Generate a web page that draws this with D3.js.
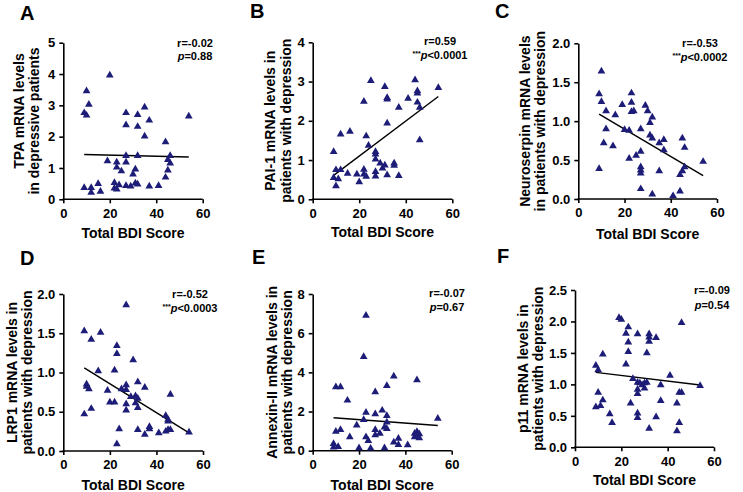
<!DOCTYPE html>
<html><head><meta charset="utf-8">
<script src="https://cdn.jsdelivr.net/npm/d3@7"></script>
<style>
html,body{margin:0;padding:0;background:#fff;}
svg text{font-family:"Liberation Sans",Arial,sans-serif;font-weight:bold;fill:#000;}
</style></head>
<body><svg id="chart" width="743" height="492"></svg>
<script>
// ---------------- DATA ----------------
const xTicks = [0, 20, 40, 60];
const xTitle = "Total BDI Score";

// Panel A: TPA
const tpaPoints = [[20,3.96],[10,3.46],[11,3.03],[9,2.76],[10,2.68],[27,2.76],[32,2.70],[35,2.94],[27,2.37],[32,2.32],[37,2.52],[35,2.01],[54,2.65],[44,1.83],[46,1.39],[27,1.39],[32,1.39],[45,1.26],[46,1.15],[19,1.22],[23,1.18],[23,1.02],[27,1.18],[25,0.90],[31,0.96],[30,0.80],[45,0.93],[44,0.70],[9,0.37],[12,0.37],[12,0.22],[15,0.50],[16,0.25],[22,0.53],[22,0.35],[23,0.32],[24,0.46],[27,0.43],[29,0.42],[31,0.51],[32,0.48],[37,0.42],[41,0.43]];
const tpaFit = [[9,1.43],[54,1.35]];
const tpaTicks = [0,1,2,3,4,5];
const tpaLabel = ["TPA mRNA levels","in depressive patients"];
const tpaStats = ["r=-0.02","","p=0.88"];

// Panel B: PAI-1
const paiPoints = [[25,3.02],[31,2.87],[44,3.04],[54,2.84],[45,2.76],[45,2.70],[41,2.57],[32,2.59],[32,2.55],[22,2.49],[45,2.47],[46,2.34],[37,2.34],[32,1.94],[12,1.66],[16,1.73],[23,1.61],[46,1.51],[24,1.37],[9,1.21],[27,1.21],[27,1.15],[27,1.02],[29,0.92],[31,0.87],[30,0.79],[35,0.92],[35,0.86],[10,0.75],[12,0.75],[15,0.66],[19,0.64],[22,0.76],[22,0.64],[23,0.58],[27,0.70],[27,0.59],[32,0.62],[37,0.60],[9,0.55],[11,0.52],[20,0.44],[10,0.34]];
const paiFit = [[9,0.61],[54,2.62]];
const paiTicks = [0,1,2,3,4];
const paiLabel = ["PAI-1 mRNA levels in","patients with depression"];
const paiStats = ["r=0.59","***","p<0.0001"];

// Panel C: Neuroserpin
const nsPoints = [[10,1.64],[9,1.35],[10,1.25],[12,1.13],[16,1.08],[19,1.21],[23,1.36],[23,1.24],[23,1.12],[24,1.13],[29,1.20],[30,1.13],[32,1.05],[31,0.98],[12,0.90],[20,0.89],[22,0.88],[27,0.90],[31,0.82],[32,0.78],[35,0.72],[37,0.76],[45,0.78],[46,0.66],[11,0.72],[15,0.68],[37,0.63],[22,0.52],[25,0.56],[27,0.61],[9,0.39],[27,0.41],[27,0.37],[27,0.33],[35,0.36],[54,0.48],[46,0.41],[45,0.36],[44,0.31],[27,0.13],[32,0.06],[41,0.04],[44,0.10]];
const nsFit = [[9,1.09],[54,0.30]];
const nsTicks = [0,0.5,1.0,1.5,2.0];
const nsLabel = ["Neuroserpin mRNA levels","in patients with depression"];
const nsStats = ["r=-0.53","***","p<0.0002"];

// Panel D: LRP1
const lrpPoints = [[27,1.86],[9,1.53],[16,1.51],[12,1.42],[23,1.34],[23,1.24],[30,1.16],[22,1.03],[15,1.02],[10,0.85],[10,0.82],[11,0.79],[19,0.77],[25,0.79],[27,0.84],[27,0.78],[32,0.88],[35,0.81],[29,0.69],[31,0.70],[32,0.67],[31,0.61],[27,0.60],[20,0.62],[22,0.62],[27,0.52],[32,0.55],[12,0.54],[9,0.47],[46,0.72],[24,0.28],[23,0.09],[32,0.27],[35,0.21],[37,0.31],[37,0.28],[41,0.23],[44,0.45],[45,0.40],[45,0.38],[44,0.25],[45,0.27],[46,0.27],[54,0.24]];
const lrpFit = [[9,1.06],[54,0.23]];
const lrpTicks = [0,0.5,1.0,1.5,2.0];
const lrpLabel = ["LRP1 mRNA levels in","patients with depression"];
const lrpStats = ["r=-0.52","***","p<0.0003"];

// Panel E: Annexin-II
const anxPoints = [[23,6.90],[22,4.80],[10,3.25],[12,3.25],[35,3.80],[45,3.61],[32,3.32],[15,2.57],[27,3.00],[23,1.95],[30,2.06],[27,1.87],[32,1.78],[22,1.58],[19,1.30],[32,1.45],[54,1.64],[10,0.98],[12,1.07],[27,1.07],[31,1.20],[32,1.12],[29,0.88],[27,0.80],[16,0.70],[23,0.70],[24,0.51],[35,0.43],[37,0.62],[37,0.30],[9,0.36],[9,0.18],[11,0.20],[20,0.14],[25,0.12],[31,0.14],[41,0.29],[44,0.88],[45,0.97],[45,0.72],[46,0.85],[44,0.70],[46,0.65],[45,0.80]];
const anxFit = [[9,1.68],[54,1.29]];
const anxTicks = [0,2,4,6,8];
const anxLabel = ["Annexin-II mRNA levels in","patients with depression"];
const anxStats = ["r=-0.07","","p=0.67"];

// Panel F: p11
const p11Points = [[19,2.06],[20,2.03],[46,1.98],[23,1.91],[22,1.81],[32,1.80],[32,1.75],[27,1.80],[35,1.74],[32,1.68],[23,1.67],[23,1.52],[31,1.50],[12,1.48],[22,1.32],[9,1.30],[10,1.23],[41,1.14],[25,1.09],[27,1.03],[28,1.02],[30,1.02],[31,1.03],[37,0.99],[29,0.99],[27,0.92],[27,0.85],[30,0.94],[54,0.98],[45,0.87],[46,0.87],[10,0.87],[12,0.75],[37,0.74],[24,0.70],[44,0.70],[9,0.64],[11,0.66],[15,0.53],[27,0.54],[27,0.47],[35,0.48],[16,0.39],[45,0.39],[32,0.30],[44,0.26]];
const p11Fit = [[9,1.19],[54,0.99]];
const p11Ticks = [0,0.5,1.0,1.5,2.0,2.5];
const p11Label = ["p11 mRNA levels in","patients with depression"];
const p11Stats = ["r=-0.09","","p=0.54"];

const panelLetters = ["A","B","C","D","E","F"];

// ---------------- LAYOUT ----------------
const layout = [
  {x0:63.3,x1:202.7,y0:199.3,y1:42.7, lx:20,ly:20, yl:[24,39], ys:[-10,0], sx:195, sr:47, sp:60, tb:238, dec:0},
  {x0:312.7,x1:452.3,y0:199.3,y1:42.3, lx:250,ly:18, yl:[275,291], ys:[0,0], sx:440, sr:45, sp:59, tb:237, dec:0},
  {x0:578.3,x1:717,y0:199,y1:43.3, lx:495,ly:18, yl:[530,545], ys:[0,0], sx:700, sr:47, sp:61, tb:239, dec:1},
  {x0:63.3,x1:203,y0:451,y1:294, lx:20,ly:265, yl:[17,32], ys:[0,0], sx:190, sr:298, sp:312, tb:490, dec:1},
  {x0:312.7,x1:451.7,y0:450.7,y1:294, lx:252,ly:264, yl:[277,292], ys:[0,0], sx:447, sr:297, sp:311, tb:490, dec:0},
  {x0:575,x1:714,y0:447.3,y1:290, lx:497,ly:263, yl:[528,543], ys:[0,0], sx:712, sr:294, sp:309, tb:485, dec:1}
];
const panels = [
  {pts:tpaPoints, fit:tpaFit, ticks:tpaTicks, label:tpaLabel, stats:tpaStats},
  {pts:paiPoints, fit:paiFit, ticks:paiTicks, label:paiLabel, stats:paiStats},
  {pts:nsPoints, fit:nsFit, ticks:nsTicks, label:nsLabel, stats:nsStats},
  {pts:lrpPoints, fit:lrpFit, ticks:lrpTicks, label:lrpLabel, stats:lrpStats},
  {pts:anxPoints, fit:anxFit, ticks:anxTicks, label:anxLabel, stats:anxStats},
  {pts:p11Points, fit:p11Fit, ticks:p11Ticks, label:p11Label, stats:p11Stats}
];

const svg = d3.select("#chart");
const markColor = "#1d1d78";
const tri = d3.symbol().type(d3.symbolTriangle).size(26);

panels.forEach((p, i) => {
  const L = layout[i];
  const g = svg.append("g");
  const x = d3.scaleLinear().domain([0, 60]).range([L.x0, L.x1]);
  const yMax = p.ticks[p.ticks.length - 1];
  const y = d3.scaleLinear().domain([0, yMax]).range([L.y0, L.y1]);
  const fmt = L.dec ? d3.format(".1f") : d3.format("d");

  const xa = g.append("g").attr("transform", `translate(0,${L.y0})`)
    .call(d3.axisBottom(x).tickValues(xTicks).tickSize(4).tickSizeOuter(0).tickPadding(5));
  const ya = g.append("g").attr("transform", `translate(${L.x0},0)`)
    .call(d3.axisLeft(y).tickValues(p.ticks).tickFormat(fmt).tickSize(4).tickSizeOuter(0).tickPadding(4));
  [xa, ya].forEach(a => {
    a.selectAll(".domain").attr("stroke", "#000").attr("stroke-width", 1.6);
    a.selectAll(".tick line").attr("stroke", "#000").attr("stroke-width", 1.6);
    a.selectAll(".tick text").style("font-size", "13px").attr("fill", "#000");
  });
  xa.select(".domain").attr("d", `M${L.x0 - 0.8},0H${L.x1}`);

  // fit line
  g.append("line")
    .attr("x1", x(p.fit[0][0])).attr("y1", y(p.fit[0][1]))
    .attr("x2", x(p.fit[1][0])).attr("y2", y(p.fit[1][1]))
    .attr("stroke", "#000").attr("stroke-width", 1.4);

  // points
  g.selectAll("path.pt").data(p.pts).join("path").attr("class", "pt")
    .attr("d", tri)
    .attr("transform", d => `translate(${x(d[0])},${y(d[1])})`)
    .attr("fill", markColor);

  // letter
  g.append("text").attr("x", L.lx).attr("y", L.ly).style("font-size", "20px").text(panelLetters[i]);

  // x title
  g.append("text").attr("x", (L.x0 + L.x1) / 2).attr("y", L.tb)
    .attr("text-anchor", "middle").style("font-size", "14px").text(xTitle);

  // y title
  const cy = (L.y0 + L.y1) / 2;
  p.label.forEach((t, k) => {
    g.append("text").attr("transform", `translate(${L.yl[k]},${cy + L.ys[k]}) rotate(-90)`)
      .attr("text-anchor", "middle").style("font-size", "14px").text(t);
  });

  // stats
  g.append("text").attr("x", L.sx).attr("y", L.sr).attr("text-anchor", "middle")
    .style("font-size", "11px").text(p.stats[0]);
  const st = g.append("text").attr("x", L.sx).attr("y", L.sp).attr("text-anchor", "middle")
    .style("font-size", "11px");
  if (p.stats[1]) st.append("tspan").style("font-size", "7px").attr("dy", -3).text(p.stats[1]);
  st.append("tspan").style("font-style", "italic").attr("dy", p.stats[1] ? 3 : 0).text(p.stats[2].charAt(0));
  st.append("tspan").text(p.stats[2].slice(1));
});
</script></body></html>
